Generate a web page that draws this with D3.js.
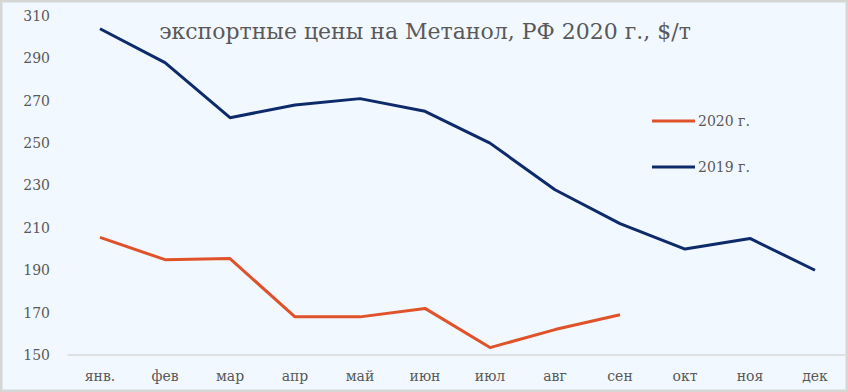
<!DOCTYPE html>
<html>
<head>
<meta charset="utf-8">
<script src="https://cdn.jsdelivr.net/npm/d3@7"></script>
<style>
  html, body { margin: 0; padding: 0; background: #fff; }
  svg { display: block; }
  text { font-family: "DejaVu Serif", "Liberation Serif", serif; fill: #595959; }
</style>
</head>
<body>
<div id="chart"></div>
<script>
const months = ["янв.", "фев", "мар", "апр", "май", "июн", "июл", "авг", "сен", "окт", "ноя", "дек"];
const prices2019 = [304, 288, 262, 268, 271, 265, 250, 228, 212, 200, 205, 190];
const prices2020 = [205.5, 195, 195.5, 168, 168, 172, 153.5, 162, 169];
const yTicks = [150, 170, 190, 210, 230, 250, 270, 290, 310];
const seriesNames = ["2020 г.", "2019 г."];
const seriesColors = ["#e0522a", "#0d2a6b"];
const title = "экспортные цены на Метанол, РФ 2020 г., $/т";

const W = 848, H = 392;
const margin = { top: 16, right: 0, bottom: 37, left: 67.5 };

const svg = d3.select("#chart")
  .append("svg")
  .attr("width", W)
  .attr("height", H);

// background + frame
svg.append("rect")
  .attr("x", 1).attr("y", 1)
  .attr("width", W - 2).attr("height", H - 2)
  .attr("fill", "#f2f8ff")
  .attr("stroke", "#d6d6d6")
  .attr("stroke-width", 3);

const x = d3.scaleBand()
  .domain(months)
  .range([margin.left, margin.left + 65 * 12]);

const y = d3.scaleLinear()
  .domain([150, 310])
  .range([H - margin.bottom, margin.top]);

// bottom axis line
svg.append("line")
  .attr("x1", margin.left).attr("x2", W - 3)
  .attr("y1", y(150)).attr("y2", y(150))
  .attr("stroke", "#d9d9d9")
  .attr("stroke-width", 1.5);

// y labels
const yAxis = svg.append("g")
  .attr("transform", `translate(50,0)`)
  .call(d3.axisLeft(y).tickValues(yTicks).tickSize(0).tickPadding(0));
yAxis.select(".domain").remove();
yAxis.selectAll("text")
  .style("font-family", "\"DejaVu Serif\", serif")
  .style("font-size", "14px")
  .attr("fill", "#595959");

// x labels
const xAxis = svg.append("g")
  .attr("transform", `translate(0,${y(150)})`)
  .call(d3.axisBottom(x).tickSize(0).tickPadding(16));
xAxis.select(".domain").remove();
xAxis.selectAll("text")
  .style("font-family", "\"DejaVu Serif\", serif")
  .style("font-size", "14px")
  .attr("fill", "#595959");

const line = d3.line()
  .x((d, i) => x(months[i]) + x.bandwidth() / 2)
  .y(d => y(d));

svg.append("path")
  .datum(prices2019)
  .attr("fill", "none")
  .attr("stroke", seriesColors[1])
  .attr("stroke-width", 3)
  .attr("stroke-linejoin", "round")
  .attr("d", line);

svg.append("path")
  .datum(prices2020)
  .attr("fill", "none")
  .attr("stroke", seriesColors[0])
  .attr("stroke-width", 3)
  .attr("stroke-linejoin", "round")
  .attr("d", line);

// title
svg.append("text")
  .attr("x", 425)
  .attr("y", 39)
  .attr("text-anchor", "middle")
  .style("font-size", "22px")
  .text(title);

// legend
const legend = svg.append("g").attr("transform", "translate(652,121)");
seriesNames.forEach((name, i) => {
  const g = legend.append("g").attr("transform", `translate(0,${i * 46})`);
  g.append("line")
    .attr("x1", 0).attr("x2", 43)
    .attr("stroke", seriesColors[i])
    .attr("stroke-width", 3);
  g.append("text")
    .attr("x", 46)
    .attr("dy", "0.35em")
    .style("font-size", "14px")
    .text(name);
});
</script>
</body>
</html>
